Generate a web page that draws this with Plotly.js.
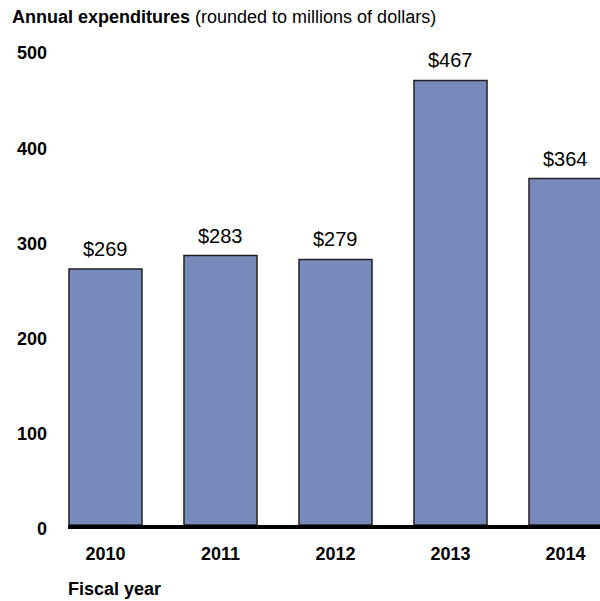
<!DOCTYPE html>
<html>
<head>
<meta charset="utf-8">
<script src="https://cdn.plot.ly/plotly-3.0.1.min.js"></script>
<style>html,body{margin:0;padding:0;background:#fff;}#chart{width:600px;height:601px;}</style>
</head>
<body>
<div id="chart"></div>
<script>
const years = ["2010", "2011", "2012", "2013", "2014"];
const expenditures = [269, 283, 279, 467, 364];
const valueLabels = ["$269", "$283", "$279", "$467", "$364"];
const yTicks = [0, 100, 200, 300, 400, 500];

const FONT = "Liberation Sans, Arial, sans-serif";

const trace = {
  type: "bar",
  x: years,
  y: expenditures,
  marker: { color: "#7889BB", line: { color: "#222222", width: 1.5 } },
  hoverinfo: "skip"
};

const annotations = years.map((yr, i) => ({
  x: i, y: expenditures[i], xref: "x", yref: "y",
  text: valueLabels[i], showarrow: false,
  yanchor: "bottom", yshift: 7,
  font: { family: FONT, size: 20, color: "#000" }
}));
annotations.push({
  xref: "paper", yref: "paper", x: 0, y: -0.13, xanchor: "left", yanchor: "middle",
  xshift: -2,
  text: "<b>Fiscal year</b>", showarrow: false,
  font: { family: FONT, size: 18, color: "#000" }
});

const layout = {
  width: 600, height: 601,
  margin: { l: 68, r: 0, t: 30, b: 76 },
  paper_bgcolor: "#fff", plot_bgcolor: "#fff",
  showlegend: false,
  bargap: 0.365,
  title: {
    text: "<b>Annual expenditures</b> (rounded to millions of dollars)",
    x: 12 / 600, xanchor: "left", xref: "container",
    y: 1 - 17 / 601, yanchor: "middle", yref: "container",
    font: { family: FONT, size: 18, color: "#000" }
  },
  xaxis: {
    type: "category",
    range: [-0.326, 4.3],
    showgrid: false, zeroline: false,
    showline: true, linecolor: "#000", linewidth: 4,
    ticks: "", ticklabelstandoff: 9,
    tickfont: { family: FONT, size: 18, color: "#000", weight: "bold" },
    fixedrange: true
  },
  yaxis: {
    range: [0, 520],
    tickvals: yTicks,
    ticktext: yTicks.map(String),
    showgrid: false, zeroline: false, showline: false,
    ticks: "", ticklabelstandoff: 20, ticklabelshift: 4,
    tickfont: { family: FONT, size: 18, color: "#000", weight: "bold" },
    fixedrange: true
  },
  annotations: annotations
};

Plotly.newPlot("chart", [trace], layout, { displayModeBar: false, staticPlot: true });
</script>
</body>
</html>
